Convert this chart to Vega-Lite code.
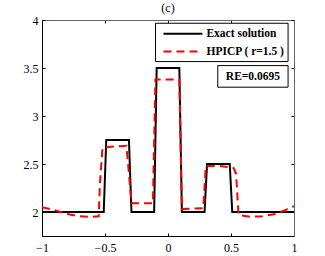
{
  "$schema": "https://vega.github.io/schema/vega-lite/v6.json",
  "width": 252,
  "height": 216,
  "autosize": "none",
  "padding": {"left": 42, "top": 20, "right": 31, "bottom": 20},
  "title": {"text": "(c)", "font": "Liberation Serif", "fontSize": 12, "fontWeight": "normal", "color": "black", "offset": -1},
  "config": {
    "view": {"stroke": null},
    "font": "Liberation Serif",
    "axis": {"grid": false, "title": null, "domainColor": "black", "tickColor": "black", "labelColor": "black", "labelFont": "Liberation Serif", "labelFontSize": 12, "tickSize": -3, "domainWidth": 1}
  },
  "data": {"values": [
    {"x": -1, "y": 2, "series": "Exact solution"},
    {"x": -0.51, "y": 2, "series": "Exact solution"},
    {"x": -0.49, "y": 2.75, "series": "Exact solution"},
    {"x": -0.31, "y": 2.75, "series": "Exact solution"},
    {"x": -0.29, "y": 2, "series": "Exact solution"},
    {"x": -0.11, "y": 2, "series": "Exact solution"},
    {"x": -0.09, "y": 3.5, "series": "Exact solution"},
    {"x": 0.09, "y": 3.5, "series": "Exact solution"},
    {"x": 0.11, "y": 2, "series": "Exact solution"},
    {"x": 0.29, "y": 2, "series": "Exact solution"},
    {"x": 0.31, "y": 2.5, "series": "Exact solution"},
    {"x": 0.49, "y": 2.5, "series": "Exact solution"},
    {"x": 0.51, "y": 2, "series": "Exact solution"},
    {"x": 1, "y": 2, "series": "Exact solution"},
    {"x": -1, "y": 2.05, "series": "HPICP ( r=1.5 )"},
    {"x": -0.9, "y": 2.02, "series": "HPICP ( r=1.5 )"},
    {"x": -0.8, "y": 1.98, "series": "HPICP ( r=1.5 )"},
    {"x": -0.7, "y": 1.955, "series": "HPICP ( r=1.5 )"},
    {"x": -0.6, "y": 1.95, "series": "HPICP ( r=1.5 )"},
    {"x": -0.55, "y": 1.955, "series": "HPICP ( r=1.5 )"},
    {"x": -0.54, "y": 2.3, "series": "HPICP ( r=1.5 )"},
    {"x": -0.52, "y": 2.67, "series": "HPICP ( r=1.5 )"},
    {"x": -0.45, "y": 2.68, "series": "HPICP ( r=1.5 )"},
    {"x": -0.33, "y": 2.69, "series": "HPICP ( r=1.5 )"},
    {"x": -0.31, "y": 2.4, "series": "HPICP ( r=1.5 )"},
    {"x": -0.29, "y": 2.09, "series": "HPICP ( r=1.5 )"},
    {"x": -0.2, "y": 2.09, "series": "HPICP ( r=1.5 )"},
    {"x": -0.12, "y": 2.09, "series": "HPICP ( r=1.5 )"},
    {"x": -0.1, "y": 3.38, "series": "HPICP ( r=1.5 )"},
    {"x": 0.09, "y": 3.38, "series": "HPICP ( r=1.5 )"},
    {"x": 0.11, "y": 2.03, "series": "HPICP ( r=1.5 )"},
    {"x": 0.2, "y": 2.035, "series": "HPICP ( r=1.5 )"},
    {"x": 0.28, "y": 2.04, "series": "HPICP ( r=1.5 )"},
    {"x": 0.3, "y": 2.48, "series": "HPICP ( r=1.5 )"},
    {"x": 0.4, "y": 2.48, "series": "HPICP ( r=1.5 )"},
    {"x": 0.52, "y": 2.46, "series": "HPICP ( r=1.5 )"},
    {"x": 0.54, "y": 2.4, "series": "HPICP ( r=1.5 )"},
    {"x": 0.56, "y": 1.97, "series": "HPICP ( r=1.5 )"},
    {"x": 0.65, "y": 1.95, "series": "HPICP ( r=1.5 )"},
    {"x": 0.75, "y": 1.955, "series": "HPICP ( r=1.5 )"},
    {"x": 0.85, "y": 1.98, "series": "HPICP ( r=1.5 )"},
    {"x": 0.93, "y": 2.02, "series": "HPICP ( r=1.5 )"},
    {"x": 1, "y": 2.06, "series": "HPICP ( r=1.5 )"}
  ]},
  "resolve": {"axis": {"x": "independent", "y": "independent"}},
  "layer": [
    {
      "mark": {"type": "line", "strokeWidth": 2, "clip": true},
      "encoding": {
        "x": {"field": "x", "type": "quantitative", "scale": {"domain": [-1, 1], "nice": false},
              "axis": {"values": [-1, -0.5, 0, 0.5, 1], "format": "~g", "labelPadding": 9, "labelFlush": false}},
        "y": {"field": "y", "type": "quantitative", "scale": {"domain": [1.75, 4], "nice": false, "zero": false},
              "axis": {"values": [2, 2.5, 3, 3.5, 4], "format": "~g", "labelPadding": 7}},
        "color": {"field": "series", "type": "nominal",
                  "scale": {"domain": ["Exact solution", "HPICP ( r=1.5 )"], "range": ["black", "red"]},
                  "legend": null},
        "strokeDash": {"field": "series", "type": "nominal",
                  "scale": {"domain": ["Exact solution", "HPICP ( r=1.5 )"], "range": [[1, 0], [8, 5]]},
                  "legend": null}
      }
    },
    {
      "data": {"values": [{}]},
      "mark": {"type": "rect", "fill": "white", "stroke": "black", "strokeWidth": 1},
      "encoding": {
        "x": {"datum": 0.395, "type": "quantitative", "axis": {"orient": "top", "values": [-1, -0.5, 0, 0.5, 1], "labels": false, "domainColor": "#666"}},
        "x2": {"datum": 0.953},
        "y": {"datum": 3.525, "type": "quantitative", "axis": {"orient": "right", "values": [2, 2.5, 3, 3.5, 4], "labels": false, "domainColor": "#666"}},
        "y2": {"datum": 3.3}
      }
    },
    {
      "data": {"values": [{}]},
      "mark": {"type": "text", "text": "RE=0.0695", "font": "Liberation Serif", "fontWeight": "bold", "fontSize": 11.5, "color": "black", "align": "center", "baseline": "middle"},
      "encoding": {
        "x": {"datum": 0.674, "type": "quantitative", "axis": null},
        "y": {"datum": 3.41, "type": "quantitative", "axis": null}
      }
    },
    {
      "data": {"values": [{}]},
      "mark": {"type": "rect", "fill": "white", "stroke": "black", "strokeWidth": 1},
      "encoding": {
        "x": {"datum": -0.099, "type": "quantitative", "axis": null},
        "x2": {"datum": 0.953},
        "y": {"datum": 3.966, "type": "quantitative", "axis": null},
        "y2": {"datum": 3.567}
      }
    },
    {
      "data": {"values": [{}]},
      "mark": {"type": "rule", "color": "black", "strokeWidth": 2},
      "encoding": {
        "x": {"datum": -0.036, "type": "quantitative", "axis": null},
        "x2": {"datum": 0.273},
        "y": {"datum": 3.858, "type": "quantitative", "axis": null}
      }
    },
    {
      "data": {"values": [{}]},
      "mark": {"type": "rule", "color": "red", "strokeWidth": 2, "strokeDash": [8, 5]},
      "encoding": {
        "x": {"datum": -0.036, "type": "quantitative", "axis": null},
        "x2": {"datum": 0.273},
        "y": {"datum": 3.671, "type": "quantitative", "axis": null}
      }
    },
    {
      "data": {"values": [{}]},
      "mark": {"type": "text", "text": "Exact solution", "font": "Liberation Serif", "fontWeight": "bold", "fontSize": 11.5, "color": "black", "align": "left", "baseline": "middle"},
      "encoding": {
        "x": {"datum": 0.305, "type": "quantitative", "axis": null},
        "y": {"datum": 3.858, "type": "quantitative", "axis": null}
      }
    },
    {
      "data": {"values": [{}]},
      "mark": {"type": "text", "text": "HPICP ( r=1.5 )", "font": "Liberation Serif", "fontWeight": "bold", "fontSize": 11.5, "color": "black", "align": "left", "baseline": "middle"},
      "encoding": {
        "x": {"datum": 0.305, "type": "quantitative", "axis": null},
        "y": {"datum": 3.671, "type": "quantitative", "axis": null}
      }
    }
  ]
}
